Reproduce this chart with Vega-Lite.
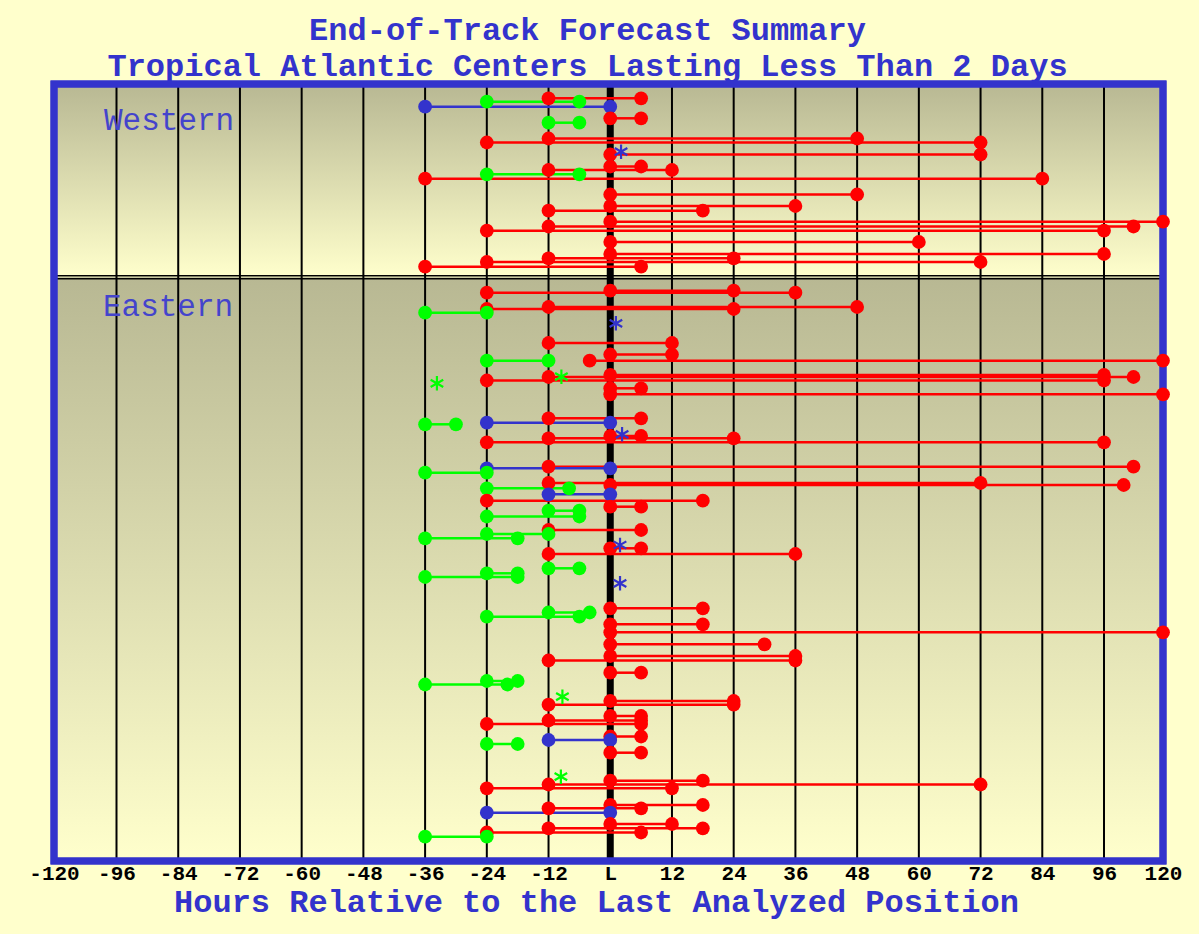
{
  "$schema": "https://vega.github.io/schema/vega-lite/v6.json",
  "width": 1109,
  "height": 777,
  "autosize": "none",
  "padding": {"left": 54, "top": 84, "right": 36, "bottom": 73},
  "background": "#FFFFCC",
  "config": {
    "view": {"stroke": null},
    "axis": {
      "domain": false, "ticks": false, "grid": false,
      "labelFont": "Liberation Mono", "labelFontSize": 21, "labelFontWeight": "bold",
      "labelColor": "#000000", "labelPadding": 1, "labelOverlap": false, "labelFlush": false,
      "titleFont": "Liberation Mono", "titleFontSize": 32, "titleFontWeight": "bold",
      "titleColor": "#3333CC", "titlePadding": 3, "titleX": 542
    }
  },
  "title": {
    "text": ["End-of-Track Forecast Summary", "Tropical Atlantic Centers Lasting Less Than 2 Days"],
    "font": "Liberation Mono", "fontSize": 32, "fontWeight": "bold", "color": "#3333CC",
    "lineHeight": 36, "anchor": "middle", "dx": -21, "dy": 27, "offset": 0, "baseline": "alphabetic"
  },
  "datasets": {
    "panels": [
      {"panel": "Western", "top": 0, "bottom": 193.3},
      {"panel": "Eastern", "top": 193.3, "bottom": 777}
    ],
    "gridhours": [
      {"hour": -96}, {"hour": -84}, {"hour": -72}, {"hour": -60}, {"hour": -48}, {"hour": -36},
      {"hour": -24}, {"hour": -12}, {"hour": 0}, {"hour": 12}, {"hour": 24}, {"hour": 36},
      {"hour": 48}, {"hour": 60}, {"hour": 72}, {"hour": 84}, {"hour": 96}
    ],
    "dividers": [{"row": 191.8}, {"row": 194.8}],
    "panellabels": [
      {"name": "Western", "hour": -100.8, "row": 46},
      {"name": "Eastern", "hour": -101.2, "row": 232}
    ],
    "stars": [
      {"ends": "at L", "hour": 2.1, "row": 67.7},
      {"ends": "at L", "hour": 1.1, "row": 239.3},
      {"ends": "before L", "hour": -9.5, "row": 292.7},
      {"ends": "before L", "hour": -33.7, "row": 299.3},
      {"ends": "at L", "hour": 2.3, "row": 350.3},
      {"ends": "at L", "hour": 1.9, "row": 461},
      {"ends": "at L", "hour": 1.9, "row": 499.3},
      {"ends": "before L", "hour": -9.3, "row": 612.7},
      {"ends": "before L", "hour": -9.6, "row": 692.7}
    ],
    "segments": [
      {"ends": "after L", "start": -12, "end": 6, "row": 14.3},
      {"ends": "before L", "start": -24, "end": -6, "row": 17.7},
      {"ends": "at L", "start": -36, "end": 0, "row": 22.7},
      {"ends": "after L", "start": 0, "end": 6, "row": 34.3},
      {"ends": "before L", "start": -12, "end": -6, "row": 38.7},
      {"ends": "after L", "start": -12, "end": 48, "row": 54.5},
      {"ends": "after L", "start": -24, "end": 72, "row": 58.5},
      {"ends": "after L", "start": 0, "end": 72, "row": 70.5},
      {"ends": "after L", "start": 0, "end": 6, "row": 82.5},
      {"ends": "after L", "start": -12, "end": 12, "row": 86},
      {"ends": "before L", "start": -24, "end": -6, "row": 90.3},
      {"ends": "after L", "start": -36, "end": 84, "row": 94.7},
      {"ends": "after L", "start": 0, "end": 48, "row": 110.5},
      {"ends": "after L", "start": 0, "end": 36, "row": 122},
      {"ends": "after L", "start": -12, "end": 18, "row": 126.7},
      {"ends": "after L", "start": 0, "end": 120, "row": 137.7},
      {"ends": "after L", "start": -12, "end": 108, "row": 142.5},
      {"ends": "after L", "start": -24, "end": 96, "row": 146.7},
      {"ends": "after L", "start": 0, "end": 60, "row": 158},
      {"ends": "after L", "start": 0, "end": 96, "row": 170},
      {"ends": "after L", "start": -12, "end": 24, "row": 174.3},
      {"ends": "after L", "start": -24, "end": 72, "row": 178},
      {"ends": "after L", "start": -36, "end": 6, "row": 182.7},
      {"ends": "after L", "start": 0, "end": 24, "row": 206.7},
      {"ends": "after L", "start": -24, "end": 36, "row": 208.7},
      {"ends": "after L", "start": -12, "end": 48, "row": 223},
      {"ends": "after L", "start": -24, "end": 24, "row": 225},
      {"ends": "before L", "start": -36, "end": -24, "row": 228.7},
      {"ends": "after L", "start": -12, "end": 12, "row": 259},
      {"ends": "after L", "start": 0, "end": 12, "row": 270.5},
      {"ends": "before L", "start": -24, "end": -12, "row": 276.7},
      {"ends": "after L", "start": -4, "end": 120, "row": 276.7},
      {"ends": "after L", "start": 0, "end": 96, "row": 291},
      {"ends": "after L", "start": -12, "end": 108, "row": 293},
      {"ends": "after L", "start": -24, "end": 96, "row": 296.5},
      {"ends": "after L", "start": 0, "end": 6, "row": 304.3},
      {"ends": "after L", "start": 0, "end": 120, "row": 310.3},
      {"ends": "after L", "start": -12, "end": 6, "row": 334.3},
      {"ends": "at L", "start": -24, "end": 0, "row": 338.7},
      {"ends": "before L", "start": -36, "end": -30, "row": 340.3},
      {"ends": "after L", "start": 0, "end": 6, "row": 352},
      {"ends": "after L", "start": -12, "end": 24, "row": 354.3},
      {"ends": "after L", "start": -24, "end": 96, "row": 358.3},
      {"ends": "after L", "start": -12, "end": 108, "row": 382.7},
      {"ends": "at L", "start": -24, "end": 0, "row": 384.3},
      {"ends": "before L", "start": -36, "end": -24, "row": 388.7},
      {"ends": "after L", "start": -12, "end": 72, "row": 399},
      {"ends": "after L", "start": 0, "end": 104, "row": 401},
      {"ends": "before L", "start": -24, "end": -8, "row": 404.3},
      {"ends": "at L", "start": -12, "end": 0, "row": 410.3},
      {"ends": "after L", "start": -24, "end": 18, "row": 416.7},
      {"ends": "after L", "start": 0, "end": 6, "row": 422.7},
      {"ends": "before L", "start": -12, "end": -6, "row": 426.7},
      {"ends": "before L", "start": -24, "end": -6, "row": 432.5},
      {"ends": "after L", "start": -12, "end": 6, "row": 446},
      {"ends": "before L", "start": -24, "end": -12, "row": 450},
      {"ends": "before L", "start": -36, "end": -18, "row": 454.3},
      {"ends": "after L", "start": 0, "end": 6, "row": 464.3},
      {"ends": "after L", "start": -12, "end": 36, "row": 470},
      {"ends": "before L", "start": -12, "end": -6, "row": 484.3},
      {"ends": "before L", "start": -24, "end": -18, "row": 489.3},
      {"ends": "before L", "start": -36, "end": -18, "row": 493},
      {"ends": "after L", "start": 0, "end": 18, "row": 524.3},
      {"ends": "before L", "start": -12, "end": -4, "row": 528.5},
      {"ends": "before L", "start": -24, "end": -6, "row": 532.7},
      {"ends": "after L", "start": 0, "end": 18, "row": 540.3},
      {"ends": "after L", "start": 0, "end": 120, "row": 548.3},
      {"ends": "after L", "start": 0, "end": 30, "row": 560.3},
      {"ends": "after L", "start": 0, "end": 36, "row": 572},
      {"ends": "after L", "start": -12, "end": 36, "row": 576.5},
      {"ends": "after L", "start": 0, "end": 6, "row": 588.7},
      {"ends": "before L", "start": -24, "end": -18, "row": 597},
      {"ends": "before L", "start": -36, "end": -20, "row": 600.5},
      {"ends": "after L", "start": 0, "end": 24, "row": 617},
      {"ends": "after L", "start": -12, "end": 24, "row": 620.7},
      {"ends": "after L", "start": 0, "end": 6, "row": 632},
      {"ends": "after L", "start": -12, "end": 6, "row": 636.5},
      {"ends": "after L", "start": -24, "end": 6, "row": 640},
      {"ends": "after L", "start": 0, "end": 6, "row": 652.5},
      {"ends": "at L", "start": -12, "end": 0, "row": 656},
      {"ends": "before L", "start": -24, "end": -18, "row": 660},
      {"ends": "after L", "start": 0, "end": 6, "row": 668.7},
      {"ends": "after L", "start": 0, "end": 18, "row": 696.7},
      {"ends": "after L", "start": -12, "end": 72, "row": 700.5},
      {"ends": "after L", "start": -24, "end": 12, "row": 704.3},
      {"ends": "after L", "start": 0, "end": 18, "row": 721},
      {"ends": "after L", "start": -12, "end": 6, "row": 724.3},
      {"ends": "at L", "start": -24, "end": 0, "row": 728.7},
      {"ends": "after L", "start": 0, "end": 12, "row": 740},
      {"ends": "after L", "start": -12, "end": 18, "row": 744.3},
      {"ends": "after L", "start": -24, "end": 6, "row": 748.5},
      {"ends": "before L", "start": -36, "end": -24, "row": 752.7}
    ]
  },
  "layer": [
    {
      "data": {"name": "panels"},
      "mark": {
        "type": "rect",
        "fill": {
          "gradient": "linear", "x1": 0, "y1": 0, "x2": 0, "y2": 1,
          "stops": [{"offset": 0, "color": "#B8B893"}, {"offset": 1, "color": "#FFFFCC"}]
        }
      },
      "encoding": {
        "x": {"datum": -120, "type": "quantitative", "title": "Hours Relative to the Last Analyzed Position"},
        "x2": {"datum": 120},
        "y": {"field": "top", "type": "quantitative", "axis": null,
              "scale": {"domain": [0, 777], "reverse": true, "nice": false, "zero": false}},
        "y2": {"field": "bottom"}
      }
    },
    {
      "data": {"name": "gridhours"},
      "mark": {"type": "rule", "color": "#000000"},
      "encoding": {
        "x": {
          "field": "hour", "type": "quantitative",
          "title": "Hours Relative to the Last Analyzed Position",
          "scale": {"type": "linear", "domain": [-120, -96, 96, 120], "range": [0, 62.5, 1050, 1109], "nice": false, "zero": false},
          "axis": {
            "values": [-120, -96, -84, -72, -60, -48, -36, -24, -12, 0, 12, 24, 36, 48, 60, 72, 84, 96, 120],
            "labelExpr": "datum.value === 0 ? 'L' : toString(datum.value)"
          }
        },
        "strokeWidth": {"condition": {"test": "datum.hour === 0", "value": 7}, "value": 2}
      }
    },
    {
      "data": {"name": "dividers"},
      "mark": {"type": "rule", "color": "#000000", "strokeWidth": 1.6},
      "encoding": {
        "y": {"field": "row", "type": "quantitative", "axis": null}
      }
    },
    {
      "data": {"name": "panels"},
      "mark": {"type": "rect", "filled": false, "color": "#3333CC", "strokeWidth": 7},
      "encoding": {
        "x": {"datum": -120, "type": "quantitative", "title": "Hours Relative to the Last Analyzed Position"},
        "x2": {"datum": 120},
        "y": {"datum": 0, "type": "quantitative", "axis": null},
        "y2": {"datum": 777}
      }
    },
    {
      "data": {"name": "segments"},
      "mark": {"type": "rule", "strokeWidth": 2.5},
      "encoding": {
        "x": {"field": "start", "type": "quantitative", "title": "Hours Relative to the Last Analyzed Position"},
        "x2": {"field": "end"},
        "y": {"field": "row", "type": "quantitative", "axis": null},
        "color": {"field": "ends", "type": "nominal", "legend": null,
                  "scale": {"domain": ["after L", "before L", "at L"], "range": ["#FF0000", "#00FF00", "#3333CC"]}}
      }
    },
    {
      "data": {"name": "segments"},
      "transform": [{"fold": ["start", "end"], "as": ["which", "hour"]}],
      "mark": {"type": "circle", "size": 190, "opacity": 1},
      "encoding": {
        "x": {"field": "hour", "type": "quantitative", "title": "Hours Relative to the Last Analyzed Position"},
        "y": {"field": "row", "type": "quantitative", "axis": null},
        "color": {"field": "ends", "type": "nominal", "legend": null}
      }
    },
    {
      "data": {"name": "stars"},
      "mark": {"type": "point", "shape": "M0,-1L0,1M-0.87,-0.5L0.87,0.5M-0.87,0.5L0.87,-0.5", "filled": false, "size": 210, "strokeWidth": 2.2, "opacity": 1},
      "encoding": {
        "x": {"field": "hour", "type": "quantitative", "title": "Hours Relative to the Last Analyzed Position"},
        "y": {"field": "row", "type": "quantitative", "axis": null},
        "color": {"field": "ends", "type": "nominal", "legend": null}
      }
    },
    {
      "data": {"name": "panellabels"},
      "mark": {"type": "text", "font": "Liberation Mono", "fontSize": 31, "baseline": "alphabetic", "align": "left", "color": "#4444CC"},
      "encoding": {
        "x": {"field": "hour", "type": "quantitative", "title": "Hours Relative to the Last Analyzed Position"},
        "y": {"field": "row", "type": "quantitative", "axis": null},
        "text": {"field": "name"}
      }
    }
  ]
}
